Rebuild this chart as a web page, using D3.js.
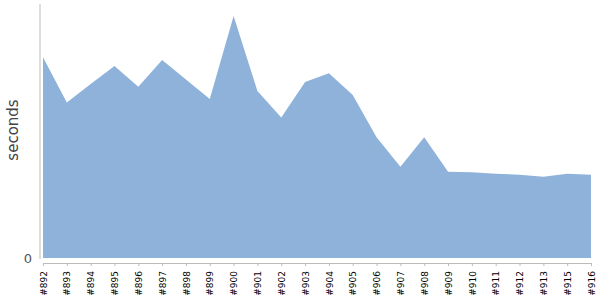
<!DOCTYPE html>
<html>
<head>
<meta charset="utf-8">
<script src="https://cdn.jsdelivr.net/npm/d3@7"></script>
<style>
    body { margin: 0; background: #fff; }
    svg { font-family: "DejaVu Sans", sans-serif; }
</style>
</head>
<body>
<div id="figure"></div>
<script>
var builds = ["#892", "#893", "#894", "#895", "#896", "#897", "#898", "#899", "#900", "#901", "#902", "#903",
    "#904", "#905", "#906", "#907", "#908", "#909", "#910", "#911", "#912", "#913", "#915", "#916"];
var seconds = [80.3, 62.2, 69.6, 76.8, 68.5, 79.2, 71.4, 63.6, 96.8, 66.8, 56.2, 70.4,
    73.9, 65.2, 48.3, 36.5, 48.3, 34.5, 34.3, 33.7, 33.3, 32.5, 33.7, 33.3];
var yTicks = [0];

function drawChart() {
    var svg = d3.select("#figure")
        .append("svg")
        .attr("width", 600)
        .attr("height", 300);

    var x = d3.scalePoint()
        .domain(builds)
        .range([43, 591]);
    var y = d3.scaleLinear()
        .domain([0, 100])
        .range([258, 8]);

    var area = d3.area()
        .x((d, i) => x(builds[i]))
        .y0(y(0))
        .y1(d => y(d));

    svg.append("path")
        .datum(seconds)
        .attr("d", area)
        .attr("fill", "#8fb2da");

    // y axis
    var yAxis = svg.append("g")
        .attr("transform", "translate(40,0)")
        .call(d3.axisLeft(y).tickValues(yTicks).tickSize(0).tickPadding(8));
    yAxis.select(".domain").remove();
    yAxis.append("line")
        .attr("y1", 4)
        .attr("y2", 259)
        .attr("stroke", "#bbb");
    yAxis.selectAll("text")
        .attr("font-size", 13)
        .attr("fill", "#555")
        .attr("font-family", "DejaVu Sans, sans-serif");

    // x axis
    var xAxis = svg.append("g")
        .attr("transform", "translate(0,263)")
        .call(d3.axisBottom(x).tickSize(3).tickSizeOuter(0));
    xAxis.select(".domain").attr("stroke", "#bbb");
    xAxis.selectAll(".tick line").attr("stroke", "#bbb");
    xAxis.selectAll("text")
        .attr("font-size", 9)
        .attr("font-family", "DejaVu Sans, sans-serif")
        .attr("fill", "#000")
        .attr("x", 0)
        .attr("y", 0)
        .attr("dy", "0.35em")
        .attr("text-anchor", "end")
        .attr("transform", "translate(0,8) rotate(-90)");

    svg.append("text")
        .attr("transform", "translate(18,130) rotate(-90)")
        .attr("text-anchor", "middle")
        .attr("font-size", 15)
        .attr("fill", "#444")
        .text("seconds");
}

drawChart();
</script>
</body>
</html>
